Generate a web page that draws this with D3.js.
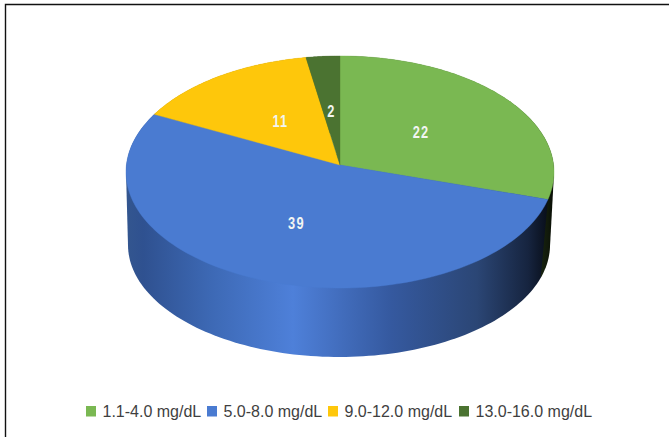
<!DOCTYPE html>
<html>
<head>
<meta charset="utf-8">
<script src="https://cdnjs.cloudflare.com/ajax/libs/d3/7.9.0/d3.min.js"></script>
<style>
  html, body { margin: 0; padding: 0; background: #fff; }
  svg { display: block; }
</style>
</head>
<body>
<script>
// Patient counts per concentration band
const categories = ["1.1-4.0 mg/dL", "5.0-8.0 mg/dL", "9.0-12.0 mg/dL", "13.0-16.0 mg/dL"];
const counts = [22, 39, 11, 2];
const sliceColors = ["#7ab852", "#4a7bd1", "#fec70b", "#4b7331"];
// Side-wall shading, left to right, for each slice
const wallStops = [
  [[0, "#3d5f2a"], [0.9, "#10180a"], [1, "#060a04"]],
  [[0, "#33568f"], [0.04, "#2f5190"], [0.2, "#3d69b5"], [0.39, "#4e80d9"], [0.62, "#35599f"], [0.82, "#2b4675"], [0.94, "#16243f"], [1, "#04070d"]],
  [[0, "#a8840a"], [1, "#a8840a"]],
  [[0, "#33501f"], [1, "#33501f"]]
];

const width = 669, height = 437;
const svg = d3.select("body").append("svg").attr("width", width).attr("height", height);

// Frame: only the top and left edges are drawn
svg.append("path")
  .attr("d", `M5.5,${height}V4.5H${width}`)
  .attr("fill", "none").attr("stroke", "#111").attr("stroke-width", 1.4);

// Perspective mapping of the tilted top disc onto the page
const cx = 340, apexY = 165, tilt = 0.0603;
const project = (angle, r) => {
  const u = Math.sin(angle) * r, v = Math.cos(angle) * r;
  const w = 1 + tilt * v;
  return [cx + 213.6 * u / w, apexY - 115.6 * v / w];
};
// The lower rim is flatter than the top face, as seen from above
const projectBase = angle => [339 + 211 * Math.sin(angle), 245 - 112 * Math.cos(angle)];

const line = d3.line();
const sampleAngles = (a0, a1) => d3.range(0, 121).map(i => a0 + (a1 - a0) * i / 120);
const topArc = d => sampleAngles(d.startAngle, d.endAngle).map(a => project(a, 1));
const baseArc = d => sampleAngles(d.startAngle, d.endAngle).map(projectBase);

const pie = d3.pie().sort(null)(counts);

const defs = svg.append("defs");
wallStops.forEach((stops, i) => {
  const g = defs.append("linearGradient")
    .attr("id", "wall" + i)
    .attr("gradientUnits", "userSpaceOnUse")
    .attr("x1", i === 0 ? 500 : 126).attr("x2", 554).attr("y1", 0).attr("y2", 0);
  stops.forEach(s => g.append("stop").attr("offset", s[0]).attr("stop-color", s[1]));
});

// Side walls first, back slices before front; the top face covers the rest
svg.append("g").selectAll("path")
  .data([pie[2], pie[3], pie[0], pie[1]])
  .join("path")
  .attr("fill", d => `url(#wall${d.index})`)
  .attr("d", d => line(d3.polygonHull(topArc(d).concat(baseArc(d)))) + "Z");

// Top face
svg.append("g").selectAll("path")
  .data(pie)
  .join("path")
  .attr("fill", d => sliceColors[d.index])
  .attr("stroke", d => sliceColors[d.index])
  .attr("stroke-width", 0.4)
  .attr("d", d => line([[cx, apexY], ...topArc(d)]) + "Z");

// Value labels sit part-way along each slice's mid-angle
const labelRadius = d => d.index === 1 ? 0.53 : 0.48;
svg.append("g").selectAll("text")
  .data(pie)
  .join("text")
  .attr("transform", d => `translate(${project((d.startAngle + d.endAngle) / 2, labelRadius(d))}) scale(0.8,1)`)
  .attr("text-anchor", "middle")
  .attr("dy", "0.36em")
  .attr("font-family", "'Liberation Sans', sans-serif")
  .attr("font-size", 16)
  .attr("font-weight", "bold")
  .attr("letter-spacing", 1.6)
  .attr("fill", "#f2f5f2")
  .text(d => d.data);

// Legend row
const legendX = [86, 207, 328, 459];
const legend = svg.append("g").selectAll("g")
  .data(categories)
  .join("g")
  .attr("transform", (d, i) => `translate(${legendX[i]},406)`);
legend.append("rect")
  .attr("width", 10).attr("height", 10.5)
  .attr("fill", (d, i) => sliceColors[i]);
legend.append("text")
  .attr("x", 16.5).attr("y", 11)
  .attr("font-family", "'Liberation Sans', sans-serif")
  .attr("font-size", 16)
  .attr("fill", "#3f3f3f")
  .text(d => d);
</script>
</body>
</html>
